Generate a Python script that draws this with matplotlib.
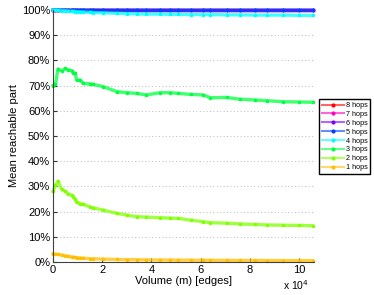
import numpy as np
import matplotlib
matplotlib.use("Agg")
import matplotlib.pyplot as plt
from matplotlib.colors import hsv_to_rgb
from matplotlib.lines import Line2D
from matplotlib.ticker import FuncFormatter, MultipleLocator

plt.rcParams['font.family'] = ['Liberation Sans', 'DejaVu Sans']

## Data (volume in edges, reachable part in %)
volume = np.array([0, 0.1, 0.2, 0.35, 0.5, 0.62, 0.76, 0.83, 0.9, 0.96, 1.1, 1.23,
                   1.5, 1.64, 2.04, 2.6, 3.0, 3.4, 3.8, 4.35, 4.76, 5.1, 5.6, 6.1,
                   6.4, 7.06, 7.6, 8.2, 8.7, 9.36, 10.0, 10.55]) * 1e4

hops1 = [3.2, 3.1, 3.0, 2.8, 2.5, 2.2, 2.0, 1.9, 1.8, 1.7, 1.6, 1.5,
         1.3, 1.25, 1.15, 1.0, 0.95, 0.9, 0.85, 0.8, 0.78, 0.75, 0.72, 0.7,
         0.68, 0.65, 0.62, 0.6, 0.58, 0.56, 0.55, 0.54]
hops2 = [28.0, 30.6, 32.0, 28.8, 28.0, 27.0, 26.5, 25.9, 25.0, 23.7, 23.2, 22.9,
         21.9, 21.5, 20.6, 19.3, 18.6, 18.0, 17.8, 17.6, 17.4, 17.3, 16.6, 16.0,
         15.6, 15.4, 15.1, 14.9, 14.7, 14.6, 14.5, 14.4]
hops3 = [70.0, 70.5, 76.6, 75.8, 76.8, 76.2, 76.0, 75.0, 74.9, 72.2, 72.2, 70.9,
         70.7, 70.5, 69.6, 67.6, 67.2, 66.9, 66.3, 67.2, 67.2, 66.9, 66.5, 66.3,
         65.2, 65.3, 64.6, 64.3, 64.0, 63.6, 63.5, 63.4]
hops4 = [100.0, 100.0, 99.9, 99.8, 99.7, 99.6, 99.5, 99.5, 99.4, 99.4, 99.3, 99.2,
         99.1, 99.0, 98.9, 98.7, 98.6, 98.5, 98.4, 98.4, 98.3, 98.3, 98.2, 98.2,
         98.2, 98.1, 98.1, 98.0, 98.0, 98.0, 97.9, 97.9]
hops5 = [100.0, 100.0, 100.0, 100.0, 100.0, 100.0, 100.0, 100.0, 100.0, 100.0, 100.0, 100.0,
         100.0, 100.0, 99.98, 99.98, 99.98, 99.97, 99.97, 99.97, 99.97, 99.96, 99.96, 99.96,
         99.96, 99.96, 99.95, 99.95, 99.95, 99.95, 99.95, 99.95]
hops6 = [100.0, 100.0, 100.0, 100.0, 100.0, 100.0, 100.0, 100.0, 100.0, 100.0, 100.0, 100.0,
         100.0, 100.0, 100.0, 100.0, 100.0, 100.0, 100.0, 100.0, 100.0, 100.0, 100.0, 100.0,
         100.0, 100.0, 100.0, 100.0, 100.0, 100.0, 100.0, 100.0]
hops7 = hops6
hops8 = hops6

series = [hops1, hops2, hops3, hops4, hops5, hops6, hops7, hops8]
labels = ["1 hops", "2 hops", "3 hops", "4 hops", "5 hops", "6 hops", "7 hops", "8 hops"]

fig = plt.figure(figsize=(3.74, 2.95), dpi=100)
ax = fig.add_axes([0.1417, 0.1119, 0.6973, 0.8541])

handles = []
# plotted 8 -> 1 so the legend reads top-down from 8 hops
for k in range(8, 0, -1):
    rgb = hsv_to_rgb([(k * 45 % 360) / 360.0, 1.0, 1.0])
    ax.plot(volume, series[k - 1], color=(*rgb, 0.75), lw=2.4,
            marker='.', ms=3, mfc=rgb, mec=rgb, clip_on=False)
    light = tuple(0.6 * rgb + 0.4)
    handles.append(Line2D([0, 1], [0, 0], color=light, linestyle='-', lw=1.5,
                          marker='.', ms=4, mfc=tuple(rgb), mec=tuple(rgb),
                          label=labels[k - 1]))

ax.set_xlim(0, 10.6e4)
ax.set_ylim(0, 100)
ax.xaxis.set_major_locator(MultipleLocator(2e4))
ax.yaxis.set_major_locator(MultipleLocator(10))
ax.xaxis.set_major_formatter(FuncFormatter(lambda v, p: "%d" % round(v / 1e4)))
ax.yaxis.set_major_formatter(FuncFormatter(lambda v, p: "%d%%" % v))
ax.tick_params(direction='in', length=3, labelsize=8, colors='#333333', labelcolor='black', pad=2)
ax.grid(axis='y', linestyle=(0, (1, 2.5)), color='#b8b8b8', lw=0.7)
ax.set_axisbelow(True)
for s in ['top', 'right']:
    ax.spines[s].set_visible(False)
for s in ['left', 'bottom']:
    ax.spines[s].set_color('#404040')
    ax.spines[s].set_linewidth(0.8)

ax.set_xlabel("Volume (m) [edges]", fontsize=8, labelpad=1)
ax.set_ylabel("Mean reachable part", fontsize=8, labelpad=2)
fig.text(0.757, 0.018, r"x 10$^4$", fontsize=7.5)

fig.legend(handles=handles, loc='upper left', bbox_to_anchor=(0.853, 0.664), fontsize=5.2,
           frameon=True, fancybox=False, edgecolor='black', framealpha=1,
           handlelength=3.0, borderpad=0.4, labelspacing=0.25, handletextpad=0.3,
           borderaxespad=0)

fig.savefig("out.png", dpi=100)
